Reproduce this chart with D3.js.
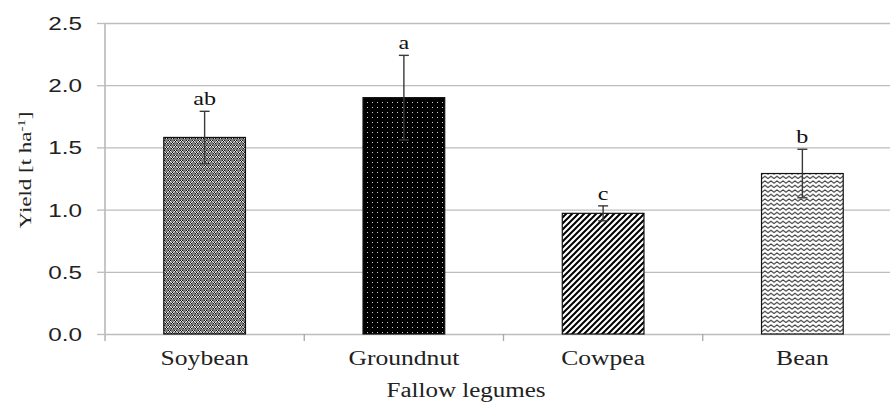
<!DOCTYPE html>
<html>
<head>
<meta charset="utf-8">
<script src="https://cdn.jsdelivr.net/npm/d3@7"></script>
<style>
  body { margin: 0; background: #fff; }
</style>
</head>
<body>
<div id="chart"></div>
<script>
const legumes = ['Soybean', 'Groundnut', 'Cowpea', 'Bean'];
const yieldMeans = [1.58, 1.90, 0.97, 1.29];
const yieldErrors = [0.21, 0.34, 0.06, 0.195];
const letters = ['ab', 'a', 'c', 'b'];
const yTicks = [0, 0.5, 1.0, 1.5, 2.0, 2.5];
const patternIds = ['pat-soy', 'pat-gnut', 'pat-cow', 'pat-bean'];

const w = 890, h = 403;
const plotLeft = 105, plotTop = 23, plotBottom = 334;

const data = legumes.map((name, i) => ({ name, mean: yieldMeans[i], se: yieldErrors[i], letter: letters[i], pat: patternIds[i] }));

const svg = d3.select('#chart')
  .append('svg')
  .attr('width', w)
  .attr('height', h)
  .style('display', 'block');

// fill patterns
const defs = svg.append('defs');

const soy = defs.append('pattern').attr('id', 'pat-soy')
  .attr('patternUnits', 'userSpaceOnUse').attr('width', 6).attr('height', 5);
soy.append('rect').attr('width', 6).attr('height', 5).attr('fill', '#7c7c7c');
[[0, 0], [2, 0], [1, 1], [4, 2], [3, 3], [5, 3]].forEach(([px, py]) =>
  soy.append('rect').attr('x', px).attr('y', py).attr('width', 1).attr('height', 1).attr('fill', '#111'));
[[1, 0], [0, 1], [2, 1], [4, 3], [3, 2], [5, 2]].forEach(([px, py]) =>
  soy.append('rect').attr('x', px).attr('y', py).attr('width', 1).attr('height', 1).attr('fill', '#e8e8e8'));

const gnut = defs.append('pattern').attr('id', 'pat-gnut')
  .attr('patternUnits', 'userSpaceOnUse').attr('width', 5).attr('height', 5);
gnut.append('rect').attr('width', 5).attr('height', 5).attr('fill', '#000');
gnut.append('rect').attr('x', 2).attr('y', 2).attr('width', 1).attr('height', 1).attr('fill', '#d0d0d0');

const cow = defs.append('pattern').attr('id', 'pat-cow')
  .attr('patternUnits', 'userSpaceOnUse').attr('width', 6).attr('height', 6);
cow.append('rect').attr('width', 6).attr('height', 6).attr('fill', '#fff');
cow.append('path').attr('d', 'M-1,7 L7,-1 M-4,4 L4,-4 M2,10 L10,2')
  .attr('stroke', '#000').attr('stroke-width', 2);

const bean = defs.append('pattern').attr('id', 'pat-bean')
  .attr('patternUnits', 'userSpaceOnUse').attr('width', 6).attr('height', 4.5);
bean.append('rect').attr('width', 6).attr('height', 4.5).attr('fill', '#fff');
bean.append('path').attr('d', 'M0,3.2 L3,0.8 L6,3.2')
  .attr('fill', 'none').attr('stroke', '#222').attr('stroke-width', 1);

// scales
const xScale = d3.scaleBand()
  .domain(legumes)
  .range([plotLeft, plotLeft + 4 * 199.25])
  .paddingInner(0.59)
  .paddingOuter(0.295);

const yScale = d3.scaleLinear()
  .domain([0, 2.5])
  .range([plotBottom, plotTop]);

// y axis with gridlines
const yAxis = d3.axisLeft(yScale).tickValues(yTicks).tickFormat(d3.format('.1f')).tickSize(8).tickPadding(0);

svg.append('g')
  .attr('transform', `translate(${plotLeft}, 0)`)
  .call(yAxis)
  .call(g => g.select('.domain').attr('stroke', '#a8a8a8').attr('stroke-width', 1.3)
    .attr('d', `M0,${plotTop}V${plotBottom + 7}`))
  .call(g => g.selectAll('.tick line').attr('stroke', '#bdbdbd').attr('stroke-width', 1.3))
  .call(g => g.selectAll('.tick line').clone().attr('x1', 0).attr('x2', w - plotLeft))
  .call(g => g.selectAll('.tick text')
    .attr('x', -23 / 1.35)
    .attr('dy', '0.36em')
    .attr('transform', 'scale(1.35,1)')
    .attr('fill', '#222')
    .style('font-family', '"Liberation Sans", Arial, sans-serif')
    .style('font-size', '18px'));

// x axis: labels at band centres, ticks at band boundaries
const xAxis = d3.axisBottom(xScale).tickSize(0);
svg.append('g')
  .attr('transform', `translate(0, ${plotBottom})`)
  .call(xAxis)
  .call(g => g.select('.domain').remove())
  .call(g => g.selectAll('.tick text')
    .attr('y', 31).attr('dy', 0)
    .attr('transform', 'scale(1.28,1)')
    .attr('fill', '#222')
    .style('font-family', '"Liberation Serif", "Times New Roman", serif')
    .style('font-size', '20px'));

const gap = (xScale.step() - xScale.bandwidth()) / 2;
svg.append('g')
  .selectAll('line')
  .data(legumes.slice(1))
  .join('line')
  .attr('x1', d => xScale(d) - gap)
  .attr('x2', d => xScale(d) - gap)
  .attr('y1', plotBottom)
  .attr('y2', plotBottom + 7)
  .attr('stroke', '#a8a8a8')
  .attr('stroke-width', 1.3);

// bars
svg.append('g')
  .selectAll('rect')
  .data(data)
  .join('rect')
  .attr('x', d => xScale(d.name))
  .attr('y', d => yScale(d.mean))
  .attr('width', xScale.bandwidth())
  .attr('height', d => yScale(0) - yScale(d.mean))
  .attr('fill', d => `url(#${d.pat})`)
  .attr('stroke', '#111')
  .attr('stroke-width', 1.2);

// error bars
const cx = d => xScale(d.name) + xScale.bandwidth() / 2;
const err = svg.append('g').attr('stroke', '#3a3a3a').attr('stroke-width', 1.4);
err.selectAll('.stem').data(data).join('line').attr('class', 'stem')
  .attr('x1', cx).attr('x2', cx)
  .attr('y1', d => yScale(d.mean + d.se))
  .attr('y2', d => yScale(d.mean - d.se));
err.selectAll('.capTop').data(data).join('line').attr('class', 'capTop')
  .attr('x1', d => cx(d) - 5).attr('x2', d => cx(d) + 5)
  .attr('y1', d => yScale(d.mean + d.se)).attr('y2', d => yScale(d.mean + d.se));
err.selectAll('.capBot').data(data).join('line').attr('class', 'capBot')
  .attr('x1', d => cx(d) - 5).attr('x2', d => cx(d) + 5)
  .attr('y1', d => yScale(d.mean - d.se)).attr('y2', d => yScale(d.mean - d.se));

// significance letters
svg.append('g')
  .selectAll('text')
  .data(data)
  .join('text')
  .attr('transform', d => `translate(${cx(d)}, ${yScale(d.mean + d.se) - 6}) scale(1.27,1)`)
  .attr('text-anchor', 'middle')
  .style('font-family', '"Liberation Serif", "Times New Roman", serif')
  .style('font-size', '19px')
  .attr('fill', '#111')
  .text(d => d.letter);

// axis titles
const yTitle = svg.append('text')
  .attr('transform', 'translate(31, 170) rotate(-90) scale(1.35,1)')
  .attr('text-anchor', 'middle')
  .style('font-family', '"Liberation Serif", "Times New Roman", serif')
  .style('font-size', '17px')
  .attr('fill', '#222');
yTitle.append('tspan').text('Yield [t ha');
yTitle.append('tspan').attr('dy', -6).style('font-size', '11px').text('-1');
yTitle.append('tspan').attr('dy', 6).text(']');

svg.append('text')
  .attr('transform', 'translate(466, 397) scale(1.25,1)')
  .attr('text-anchor', 'middle')
  .style('font-family', '"Liberation Serif", "Times New Roman", serif')
  .style('font-size', '20px')
  .attr('fill', '#222')
  .text('Fallow legumes');
</script>
</body>
</html>
